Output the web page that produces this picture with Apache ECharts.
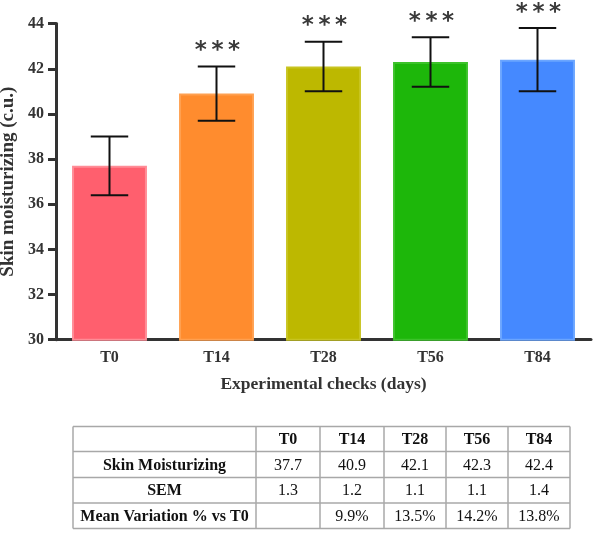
<!DOCTYPE html>
<html>
<head>
<meta charset="utf-8">
<script src="https://cdn.jsdelivr.net/npm/echarts@6/dist/echarts.min.js"></script>
<style>
html,body{margin:0;padding:0;background:#fff;}
#chart{width:594px;height:533px;}
</style>
</head>
<body>
<div id="chart"></div>
<script>
// ---- data ----
const categories = ['T0', 'T14', 'T28', 'T56', 'T84'];
const means = [37.7, 40.9, 42.1, 42.3, 42.4];
const sem = [1.3, 1.2, 1.1, 1.1, 1.4];
const significance = ['', '***', '***', '***', '***'];
const meanVariation = ['', '9.9%', '13.5%', '14.2%', '13.8%'];
const tableRowLabels = ['Skin Moisturizing', 'SEM', 'Mean Variation % vs T0'];
const yMin = 30, yMax = 44, yStep = 2;

// ---- style ----
const barColors = ['#FF5F6E', '#FF8C2E', '#BDB800', '#1DB70A', '#4589FF'];
const barBorders = ['#FF8C96', '#FFA050', '#C8C420', '#3CC22A', '#6AA5FF'];
const serif = '"Liberation Serif", "DejaVu Serif", serif';

const chart = echarts.init(document.getElementById('chart'), null, {renderer: 'canvas'});

// table graphics
const colEdges = [73, 256, 320, 384, 446, 508, 570];
const rowEdges = [426.5, 451.5, 477.5, 503, 528.5];
const tableRows = [
  [''].concat(categories),
  [tableRowLabels[0]].concat(means.map(v => v.toFixed(1))),
  [tableRowLabels[1]].concat(sem.map(v => v.toFixed(1))),
  [tableRowLabels[2]].concat(meanVariation)
];
const graphics = [];
const lineStyle = {stroke: '#A8A8A8', lineWidth: 1.5};
rowEdges.forEach(y => graphics.push({type: 'line', shape: {x1: colEdges[0], y1: y, x2: colEdges[colEdges.length - 1], y2: y}, style: lineStyle, silent: true}));
colEdges.forEach(x => graphics.push({type: 'line', shape: {x1: x, y1: rowEdges[0], x2: x, y2: rowEdges[rowEdges.length - 1]}, style: lineStyle, silent: true}));
tableRows.forEach((row, r) => {
  row.forEach((txt, c) => {
    if (!txt) return;
    const bold = (r === 0 || c === 0);
    graphics.push({
      type: 'text',
      x: (colEdges[c] + colEdges[c + 1]) / 2,
      y: (rowEdges[r] + rowEdges[r + 1]) / 2 + 1,
      silent: true,
      style: {
        text: txt, align: 'center', verticalAlign: 'middle',
        font: (bold ? 'bold 16px ' : '16px ') + serif,
        fill: '#111'
      }
    });
  });
});

const option = {
  animation: false,
  backgroundColor: '#fff',
  grid: {left: 56, right: 3, top: 23.6, bottom: 193.3, containLabel: false, outerBoundsMode: 'none'},
  xAxis: {
    type: 'category',
    data: categories,
    name: 'Experimental checks (days)',
    nameLocation: 'middle',
    nameGap: 36,
    nameTextStyle: {fontFamily: serif, fontWeight: 'bold', fontSize: 17.5, color: '#333'},
    axisLine: {lineStyle: {color: '#333', width: 3}},
    axisTick: {alignWithLabel: true, length: 7, lineStyle: {color: '#333', width: 3}},
    axisLabel: {fontFamily: serif, fontWeight: 'bold', fontSize: 16, color: '#333', margin: 10}
  },
  yAxis: {
    type: 'value',
    min: yMin, max: yMax, interval: yStep,
    name: 'Skin moisturizing (c.u.)',
    nameLocation: 'middle',
    nameGap: 35,
    nameTextStyle: {fontFamily: serif, fontWeight: 'bold', fontSize: 19, color: '#333'},
    axisLine: {show: true, lineStyle: {color: '#333', width: 3}},
    axisTick: {show: true, inside: false, length: 8, lineStyle: {color: '#333', width: 3}},
    axisLabel: {fontFamily: serif, fontWeight: 'bold', fontSize: 16, color: '#333', margin: 12},
    splitLine: {show: false}
  },
  series: [
    {
      type: 'bar',
      barWidth: '70%',
      data: means.map((v, i) => ({
        value: v,
        itemStyle: {color: barColors[i], borderColor: barBorders[i], borderWidth: 2}
      }))
    },
    {
      type: 'custom',
      data: means.map((m, i) => [i, m - sem[i], m + sem[i]]),
      z: 5,
      renderItem: function (params, api) {
        const i = api.value(0);
        const pHi = api.coord([i, api.value(2)]);
        const pLo = api.coord([i, api.value(1)]);
        const hw = api.size([1, 0])[0] * 0.175;
        const st = {stroke: '#111', lineWidth: 2};
        const children = [
          {type: 'line', shape: {x1: pHi[0], y1: pHi[1], x2: pLo[0], y2: pLo[1]}, style: st},
          {type: 'line', shape: {x1: pHi[0] - hw, y1: pHi[1], x2: pHi[0] + hw, y2: pHi[1]}, style: st},
          {type: 'line', shape: {x1: pLo[0] - hw, y1: pLo[1], x2: pLo[0] + hw, y2: pLo[1]}, style: st}
        ];
        const sig = significance[i];
        if (sig) {
          children.push({
            type: 'text',
            style: {
              text: sig.split('').join('\u2009'),
              x: pHi[0] + 1, y: pHi[1] - 4,
              align: 'center', verticalAlign: 'bottom',
              font: 'bold 23px "DejaVu Sans", sans-serif',
              fill: '#3a3a3a'
            }
          });
        }
        return {type: 'group', children: children};
      }
    }
  ],
  graphic: graphics
};
chart.setOption(option);
</script>
</body>
</html>
